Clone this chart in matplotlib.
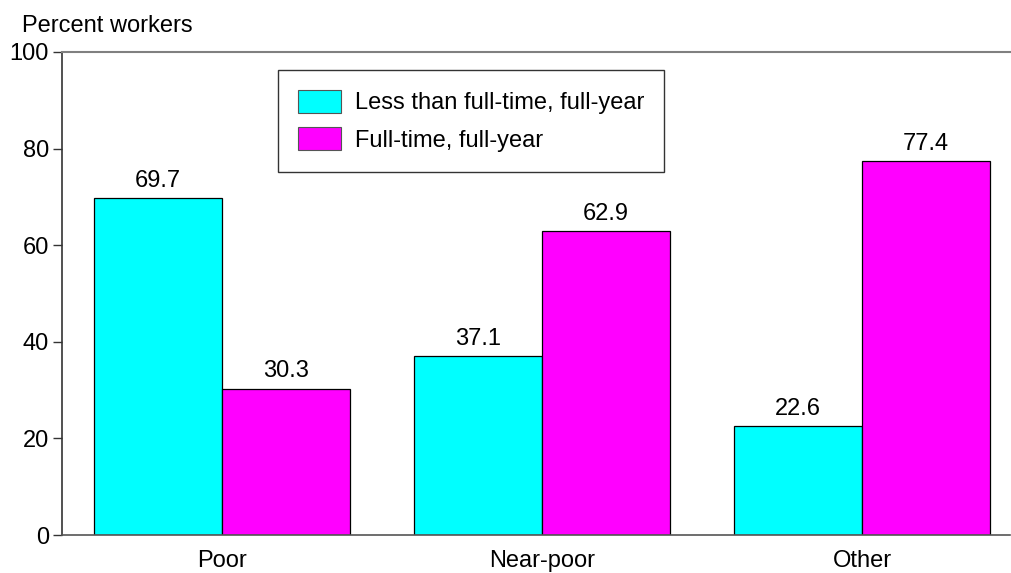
import matplotlib
matplotlib.use("Agg")
import matplotlib.pyplot as plt
import numpy as np

categories = ["Poor", "Near-poor", "Other"]
less_than_ftfy = [69.7, 37.1, 22.6]
full_time_fy = [30.3, 62.9, 77.4]
series_labels = ["Less than full-time, full-year", "Full-time, full-year"]
yticks = [0, 20, 40, 60, 80, 100]

plt.rcParams['font.family'] = ['Liberation Sans', 'DejaVu Sans']
FS = 17

W, H = 1011, 573
fig = plt.figure(figsize=(W / 100, H / 100), dpi=100)
ax = fig.add_axes([62 / W, (H - 535) / H, (1010 - 62) / W, (535 - 52) / H])

x = np.arange(len(categories))
bw = 0.4
b1 = ax.bar(x - bw / 2, less_than_ftfy, bw, color='#00FFFF', edgecolor='black',
            linewidth=0.9, label=series_labels[0])
b2 = ax.bar(x + bw / 2, full_time_fy, bw, color='#FF00FF', edgecolor='black',
            linewidth=0.9, label=series_labels[1])
ax.bar_label(b1, labels=[f"{v:.1f}" for v in less_than_ftfy], padding=4.5, fontsize=FS)
ax.bar_label(b2, labels=[f"{v:.1f}" for v in full_time_fy], padding=4.5, fontsize=FS)

ax.set_xlim(-0.5, 2.4625)
ax.set_ylim(0, 100)
ax.set_yticks(yticks)
ax.set_yticklabels([str(t) for t in yticks], fontsize=FS)
ax.set_xticks(x)
ax.set_xticklabels(categories, fontsize=FS)
ax.tick_params(axis='x', length=0, pad=11)
ax.tick_params(axis='y', direction='out', length=6.5, width=1, color='#333333', pad=3)

ax.spines['right'].set_visible(False)
ax.spines['top'].set_color('#808080')
ax.spines['top'].set_linewidth(1.5)
ax.spines['bottom'].set_color('#555555')
ax.spines['bottom'].set_linewidth(1.2)
ax.spines['left'].set_color('#333333')
ax.spines['left'].set_linewidth(1.2)

leg = ax.legend(loc='upper left', bbox_to_anchor=((278 - 62) / (1010 - 62), 1 - (70 - 52) / (535 - 52)),
                fontsize=FS, frameon=True, fancybox=False, edgecolor='black',
                handlelength=1.8, handleheight=1.1, handletextpad=0.6,
                borderpad=0.85, labelspacing=0.55, borderaxespad=0)
leg.get_frame().set_linewidth(1.0)
for p in leg.get_patches():
    p.set_edgecolor('#555555')
    p.set_linewidth(0.8)

fig.text(22 / W, 1 - 32 / H, "Percent workers", fontsize=FS, ha='left', va='baseline')

fig.savefig("out.png", dpi=100)
